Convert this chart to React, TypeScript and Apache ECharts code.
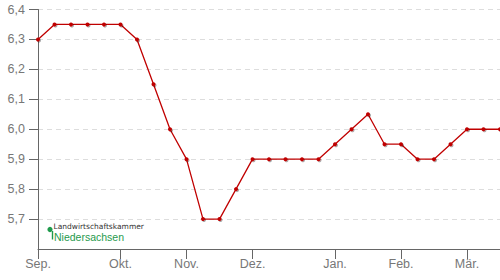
import React, { useEffect, useRef } from "react";
import * as echarts from "echarts";

const weeks: string[] = [
  "Sep.", "", "", "", "",
  "Okt.", "", "", "",
  "Nov.", "", "", "",
  "Dez.", "", "", "", "",
  "Jan.", "", "", "",
  "Feb.", "", "", "",
  "Mär.", "", "",
];

const prices: number[] = [
  6.30, 6.35, 6.35, 6.35, 6.35,
  6.35, 6.30, 6.15, 6.00,
  5.90, 5.70, 5.70, 5.80,
  5.90, 5.90, 5.90, 5.90, 5.90,
  5.95, 6.00, 6.05, 5.95,
  5.95, 5.90, 5.90, 5.95,
  6.00, 6.00, 6.00,
];

const yMin = 5.6;
const yMax = 6.4;
const yStep = 0.1;

export default function App() {
  const ref = useRef<HTMLDivElement>(null);
  useEffect(() => {
    if (!ref.current) return;
    const chart = echarts.init(ref.current, undefined, { renderer: "svg" });
    const green = "#1f9a4c";
    const font = "Liberation Sans";
    chart.setOption({
      animation: false,
      grid: { left: 38, right: 0, top: 9.5, bottom: 31, containLabel: false },
      xAxis: {
        type: "category",
        data: weeks,
        boundaryGap: false,
        axisLine: { lineStyle: { color: "#666", width: 1 } },
        axisTick: {
          length: 10,
          lineStyle: { color: "#666" },
          interval: (i: number, v: string) => v !== "",
        },
        axisLabel: {
          interval: (i: number, v: string) => v !== "",
          color: "#777",
          fontSize: 12.5,
          fontFamily: font,
          margin: 8,
        },
        splitLine: { show: false },
      },
      yAxis: {
        type: "value",
        min: yMin,
        max: yMax,
        interval: yStep,
        axisLine: { show: true, lineStyle: { color: "#666" } },
        axisTick: { show: true, length: 9, lineStyle: { color: "#666" } },
        axisLabel: {
          color: "#777",
          fontSize: 12.5,
          fontFamily: font,
          margin: 13,
          showMinLabel: false,
          formatter: (v: number) => (Math.abs(v - yMin) < 1e-6 ? "" : v.toFixed(1).replace(".", ",")),
        },
        splitLine: { show: true, lineStyle: { color: "#ddd", type: [5, 4], width: 1 } },
      },
      series: [
        {
          type: "line",
          data: prices,
          symbol: "circle",
          symbolSize: 4,
          showAllSymbol: true,
          lineStyle: { color: "#c00000", width: 1.3 },
          itemStyle: {
            color: "#c00000",
            shadowColor: "rgba(0,0,0,0.35)",
            shadowBlur: 1,
            shadowOffsetX: 1,
            shadowOffsetY: 1,
          },
        },
      ],
      graphic: [
        { type: "circle", shape: { cx: 50, cy: 229.5, r: 2.6 }, style: { fill: green } },
        { type: "rect", shape: { x: 51.8, y: 231, width: 1.4, height: 8.5 }, style: { fill: green } },
        {
          type: "text",
          x: 53.5,
          y: 226,
          style: {
            text: "Landwirtschaftskammer",
            fill: "#333",
            fontSize: 7.5,
            fontFamily: "DejaVu Sans",
            verticalAlign: "middle",
            align: "left",
          },
        },
        {
          type: "text",
          x: 54,
          y: 237,
          style: {
            text: "Niedersachsen",
            fill: green,
            fontSize: 10.5,
            fontFamily: font,
            verticalAlign: "middle",
            align: "left",
          },
        },
      ],
    });
    return () => chart.dispose();
  }, []);
  return <div ref={ref} style={{ width: 500, height: 280, position: "absolute", left: 0, top: 0 }} />;
}
